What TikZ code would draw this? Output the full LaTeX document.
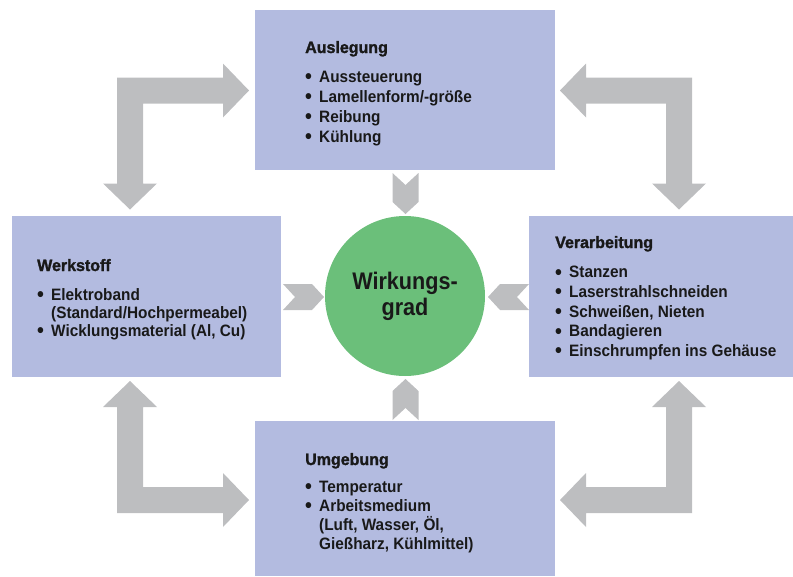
\documentclass[tikz,border=0pt]{standalone}
\usepackage{fontspec}
\setmainfont{Liberation Sans}
\newfontfamily\itemfont{Liberation Sans Bold}[FakeStretch=0.93]
\newfontfamily\titelfont{Liberation Sans Bold}[FakeStretch=0.97, FakeBold=1.5]
\newfontfamily\kreisfont{Liberation Sans}[FakeStretch=0.9]
\usetikzlibrary{positioning}
\definecolor{boxblau}{HTML}{B3BBE0}
\definecolor{pfeilgrau}{HTML}{BDBEC0}
\definecolor{kreisgruen}{HTML}{6BBF7A}
\newcommand{\winkelpfeil}{\fill[pfeilgrau] (-13,93) -- (-13,-13) -- (93,-13) -- (93,-27) -- (119,0) -- (93,27) -- (93,13) -- (13,13) -- (13,93) -- (27,93) -- (0,119) -- (-27,93) -- cycle;}
\newcommand{\keil}{\fill[pfeilgrau] (0,-13) -- (29,-13) -- (41,0) -- (29,13) -- (0,13) -- (12,0) -- cycle;}
\newcommand{\pkt}[1]{\makebox[14pt][l]{\raisebox{-1.4pt}{\fontsize{21}{20}\selectfont\textbullet}}#1}
\newcommand{\weiter}[1]{\hspace*{14pt}#1}

\begin{document}
\begin{tikzpicture}[x=1pt,y=-1pt,
		box/.style={fill=boxblau, inner sep=0},
		titel/.style={anchor=base west, inner sep=0, text=black!90, font=\titelfont\fontsize{16.5}{20}\selectfont},
		punkte/.style={anchor=north west, inner sep=0, align=left, text=black!90, font=\itemfont\fontsize{16.5}{#1}\selectfont}]
	\useasboundingbox (0,0) rectangle (793,576);
	\node[box, minimum width=300, minimum height=160] (ausl) at (405,90) {};
	\node[box, minimum width=269, minimum height=161] (werk) at (146.5,296.5) {};
	\node[box, minimum width=264, minimum height=161] (verarb) at (661,296.5) {};
	\node[box, minimum width=300, minimum height=155] (umg) at (405,498.5) {};
	\node[circle, fill=kreisgruen, minimum size=160, inner sep=0, align=center, text=black!90, font=\kreisfont\bfseries\fontsize{24}{26}\selectfont] (wg) at (405,296) {Wirkungs-\\grad};

	\node[titel] (auslT) at (305,53) {Auslegung};
	\node[punkte=20] (auslP) at (305,71) {\pkt{Aussteuerung}\\\pkt{Lamellenform/-größe}\\\pkt{Reibung}\\\pkt{Kühlung}};
	\node[titel] (werkT) at (37,271) {Werkstoff};
	\node[punkte=18] (werkP) at (37,288) {\pkt{Elektroband}\\\weiter{(Standard/Hochpermeabel)}\\\pkt{Wicklungsmaterial (Al, Cu)}};
	\node[titel] (verarbT) at (555,248) {Verarbeitung};
	\node[punkte=19.7] (verarbP) at (555,266) {\pkt{Stanzen}\\\pkt{Laserstrahlschneiden}\\\pkt{Schweißen, Nieten}\\\pkt{Bandagieren}\\\pkt{Einschrumpfen ins Gehäuse}};
	\node[titel] (umgT) at (305,465) {Umgebung};
	\node[punkte=19] (umgP) at (305,481) {\pkt{Temperatur}\\\pkt{Arbeitsmedium}\\\weiter{(Luft, Wasser, Öl,}\\\weiter{Gießharz, Kühlmittel)}};

	\begin{scope}[shift={(130,90.5)}]
		\winkelpfeil
	\end{scope}
	\begin{scope}[shift={(679,90.5)}, xscale=-1]
		\winkelpfeil
	\end{scope}
	\begin{scope}[shift={(130,500)}, yscale=-1]
		\winkelpfeil
	\end{scope}
	\begin{scope}[shift={(679,500)}, xscale=-1, yscale=-1]
		\winkelpfeil
	\end{scope}

	\begin{scope}[shift={(283,297)}]
		\keil
	\end{scope}
	\begin{scope}[shift={(529,297)}, rotate=180]
		\keil
	\end{scope}
	\begin{scope}[shift={(405.5,173)}, rotate=-90]
		\keil
	\end{scope}
	\begin{scope}[shift={(405.5,420)}, rotate=90]
		\keil
	\end{scope}
\end{tikzpicture}
\end{document}
